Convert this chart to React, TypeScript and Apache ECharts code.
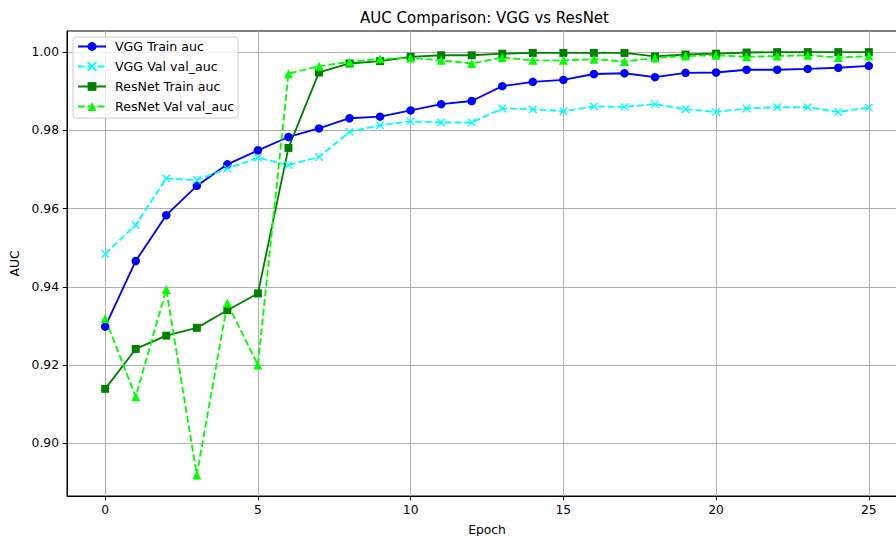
import React, { useEffect, useRef } from "react";
import * as echarts from "echarts";

const epochs = [0,1,2,3,4,5,6,7,8,9,10,11,12,13,14,15,16,17,18,19,20,21,22,23,24,25];
const vggTrain = [0.9298,0.9466,0.9583,0.9658,0.9713,0.9749,0.9783,0.9805,0.9831,0.9835,0.9851,0.9867,0.9875,0.9913,0.9924,0.9929,0.9944,0.9946,0.9936,0.9947,0.9948,0.9955,0.9955,0.9957,0.9960,0.9965];
const vggVal = [0.9484,0.9558,0.9677,0.9673,0.9702,0.9730,0.9711,0.9732,0.9796,0.9813,0.9823,0.9820,0.9820,0.9856,0.9854,0.9849,0.9861,0.9860,0.9867,0.9854,0.9847,0.9856,0.9859,0.9859,0.9847,0.9858];
const resTrain = [0.9139,0.9241,0.9275,0.9295,0.9340,0.9383,0.9755,0.9948,0.9971,0.9977,0.9988,0.9992,0.9992,0.9996,0.9998,0.9998,0.9998,0.9998,0.9989,0.9994,0.9996,0.9999,1.0000,1.0000,1.0000,1.0000];
const resVal = [0.9319,0.9119,0.9393,0.8919,0.9358,0.9200,0.9945,0.9964,0.9975,0.9983,0.9985,0.9979,0.9971,0.9986,0.9979,0.9979,0.9982,0.9976,0.9985,0.9990,0.9992,0.9988,0.9990,0.9992,0.9986,0.9990];
const xTicks = [0,5,10,15,20,25];
const yTicks = [0.90,0.92,0.94,0.96,0.98,1.00];

const FONT = "DejaVu Sans";

export default function App() {
  const ref = useRef<HTMLDivElement>(null);
  useEffect(() => {
    document.body.style.margin = "0";
    const chart = echarts.init(ref.current!, null, { renderer: "svg" });
    const pts = (arr: number[]) => epochs.map((e, i) => [e, arr[i]]);
    const dash = [6.8, 3];
    chart.setOption({
      animation: false,
      backgroundColor: "#fff",
      title: {
        text: "AUC Comparison: VGG vs ResNet",
        left: 360,
        top: 10,
        padding: 0,
        textStyle: { fontFamily: FONT, fontSize: 15, fontWeight: "normal", color: "#000" },
      },
      legend: {
        orient: "vertical",
        left: 73,
        top: 37,
        padding: [3, 4, 5, 4],
        itemWidth: 28,
        itemHeight: 11,
        itemGap: 7,
        backgroundColor: "rgba(255,255,255,0.8)",
        borderColor: "#cccccc",
        borderWidth: 1,
        borderRadius: 3,
        textStyle: { fontFamily: FONT, fontSize: 12.6, color: "#000", padding: [0, 0, 0, 4] },
        data: ["VGG Train auc", "VGG Val val_auc", "ResNet Train auc", "ResNet Val val_auc"],
      },
      grid: {
        left: 67,
        top: 31,
        right: -11,
        bottom: 40,
        outerBoundsMode: "none",
        containLabel: false,
        show: true,
        borderColor: "#000",
        borderWidth: 1,
        backgroundColor: "#fff",
      },
      xAxis: {
        type: "value",
        min: -1.25,
        max: 26.25,
        name: "Epoch",
        nameLocation: "middle",
        nameGap: 28,
        nameTextStyle: { fontFamily: FONT, fontSize: 12.3, color: "#000" },
        axisLine: { show: true, onZero: false, lineStyle: { color: "#000", width: 1 } },
        axisTick: { show: true, inside: false, length: 4.3, customValues: xTicks, lineStyle: { color: "#000", width: 1 } },
        axisLabel: {
          customValues: xTicks,
          margin: 8,
          fontFamily: FONT,
          fontSize: 12.3,
          color: "#000",
          formatter: (v: number) => String(v),
        },
        splitLine: { show: true, lineStyle: { color: "#b0b0b0", width: 1 } },
      },
      yAxis: {
        type: "value",
        min: 0.8865,
        max: 1.0054,
        name: "AUC",
        nameLocation: "middle",
        nameGap: 44,
        nameRotate: 90,
        nameTextStyle: { fontFamily: FONT, fontSize: 12.3, color: "#000" },
        axisLine: { show: true, onZero: false, lineStyle: { color: "#000", width: 1 } },
        axisTick: { show: true, inside: false, length: 4.3, customValues: yTicks, lineStyle: { color: "#000", width: 1 } },
        axisLabel: {
          customValues: yTicks,
          margin: 8,
          fontFamily: FONT,
          fontSize: 12.3,
          color: "#000",
          formatter: (v: number) => v.toFixed(2),
        },
        splitLine: { show: true, lineStyle: { color: "#b0b0b0", width: 1 } },
      },
      series: [
        {
          name: "VGG Train auc",
          type: "line",
          data: pts(vggTrain),
          symbol: "circle",
          symbolSize: 8.5,
          showAllSymbol: true,
          lineStyle: { color: "#0000ff", width: 1.85 },
          itemStyle: { color: "#0000ff", borderColor: "#0000ff", borderWidth: 0 },
        },
        {
          name: "VGG Val val_auc",
          type: "line",
          data: pts(vggVal),
          symbol: "path://M0,0L10,10M10,0L0,10",
          symbolSize: 7.5,
          showAllSymbol: true,
          lineStyle: { color: "#00ffff", width: 1.85, type: dash },
          itemStyle: { color: "#00ffff", borderColor: "#00ffff", borderWidth: 1.3 },
        },
        {
          name: "ResNet Train auc",
          type: "line",
          data: pts(resTrain),
          symbol: "rect",
          symbolSize: 8,
          showAllSymbol: true,
          lineStyle: { color: "#008000", width: 1.85 },
          itemStyle: { color: "#008000", borderColor: "#008000", borderWidth: 0 },
        },
        {
          name: "ResNet Val val_auc",
          type: "line",
          data: pts(resVal),
          symbol: "triangle",
          symbolSize: 9,
          showAllSymbol: true,
          lineStyle: { color: "#00ff00", width: 1.85, type: dash },
          itemStyle: { color: "#00ff00", borderColor: "#00ff00", borderWidth: 0 },
        },
      ],
    });
    return () => chart.dispose();
  }, []);
  return <div ref={ref} style={{ width: 896, height: 536 }} />;
}
